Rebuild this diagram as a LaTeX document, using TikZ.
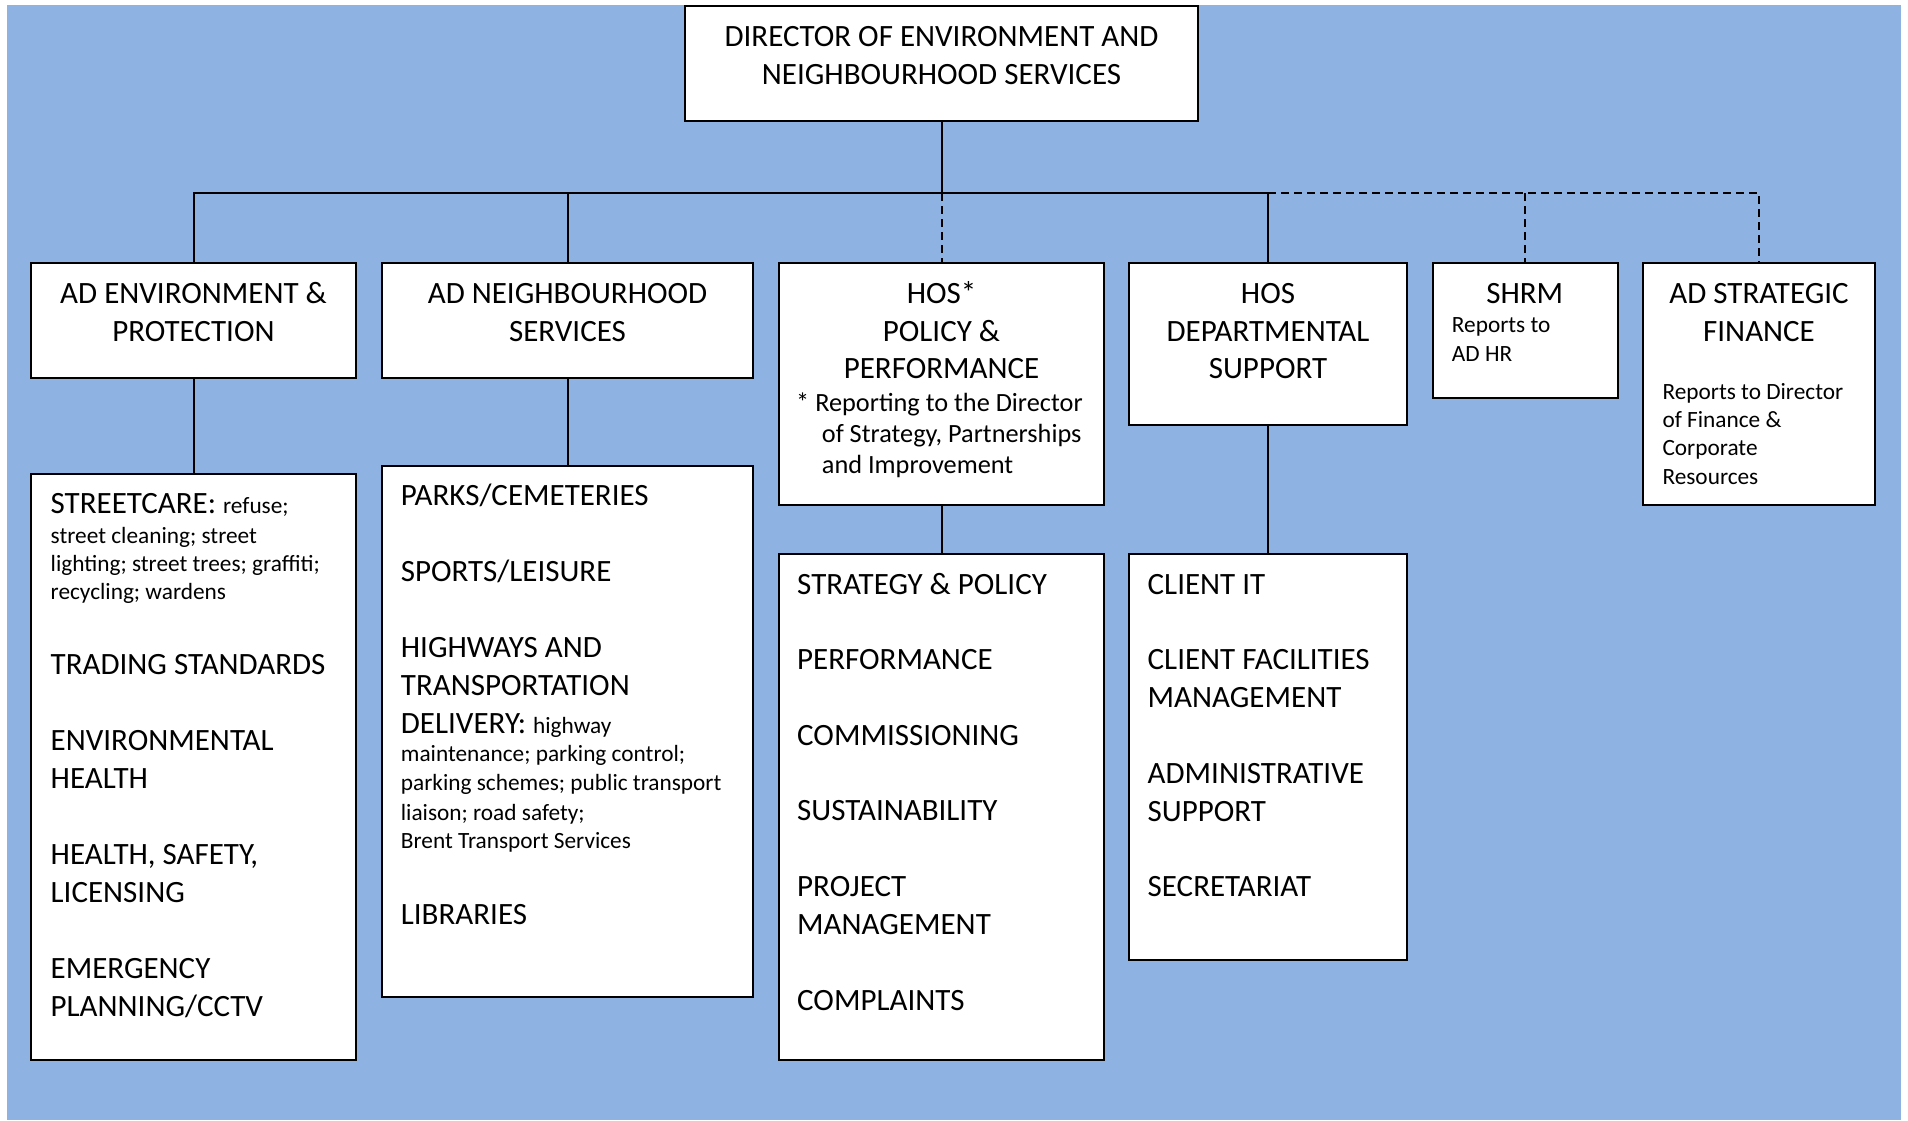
\documentclass[tikz,border=0pt]{standalone}
\usepackage{fontspec}
\setmainfont{Carlito}
\definecolor{bgblue}{RGB}{142,179,226}
\newcommand\smfont{\fontsize{23.3}{28}\selectfont}
\tikzset{
  box/.style={draw=black, line width=2pt, fill=white, rectangle, inner sep=0pt},
  conn/.style={draw=black, line width=2pt},
  dconn/.style={conn, dash pattern=on 8pt off 5pt},
  tbig/.style={font=\fontsize{31}{37}\selectfont, inner sep=0pt},
  tnote/.style={font=\fontsize{26.3}{31}\selectfont, inner sep=0pt, anchor=base west},
  tsmall/.style={font=\smfont, inner sep=0pt, anchor=base west},
  tc/.style={tbig, anchor=base},
  tl/.style={tbig, anchor=base west},
}
\begin{document}
\begin{tikzpicture}[x=1pt,y=-1pt]
\useasboundingbox (0,0) rectangle (1908,1120);
\fill[bgblue] (7,5) rectangle (1901,1120);

% boxes
\node[box, minimum width=513pt, minimum height=115pt] (dir) at (941.5,63.5) {};
\node[box, minimum width=325pt, minimum height=115pt] (adenv) at (193.5,320.5) {};
\node[box, minimum width=371pt, minimum height=115pt] (adneigh) at (567.5,320.5) {};
\node[box, minimum width=325pt, minimum height=242pt] (hospol) at (941.5,384) {};
\node[box, minimum width=278pt, minimum height=162pt] (hosdept) at (1268,344) {};
\node[box, minimum width=185.5pt, minimum height=135pt] (shrm) at (1525.25,330.5) {};
\node[box, minimum width=232pt, minimum height=242pt] (fin) at (1759,384) {};
\node[box, minimum width=325pt, minimum height=586pt] (street) at (193.5,767) {};
\node[box, minimum width=371pt, minimum height=531pt] (parks) at (567.5,731.5) {};
\node[box, minimum width=325pt, minimum height=506pt] (strat) at (941.5,807) {};
\node[box, minimum width=278pt, minimum height=406pt] (client) at (1268,757) {};

% connectors
\coordinate (bus) at (941.5,193);
\draw[conn] (dir.south) -- (bus);
\draw[conn] (adenv.north) |- (bus);
\draw[conn] (bus) -| (hosdept.north);
\draw[conn] (adneigh.north) -- (adneigh.north |- bus);
\draw[dconn] (bus) -- (hospol.north);
\draw[dconn] (hosdept.north |- bus) -| (fin.north);
\draw[dconn] (shrm.north |- bus) -- (shrm.north);
\draw[conn] (adenv.south) -- (street.north);
\draw[conn] (adneigh.south) -- (parks.north);
\draw[conn] (hospol.south) -- (strat.north);
\draw[conn] (hosdept.south) -- (client.north);

% header texts
\node[tc] (d1) at (941.5,46) {DIRECTOR OF ENVIRONMENT AND};
\node[tc] (d2) at (941.5,84) {NEIGHBOURHOOD SERVICES};
\node[tc] (ae1) at (193.5,303.5) {AD ENVIRONMENT \&};
\node[tc] (ae2) at (193.5,341) {PROTECTION};
\node[tc] (an1) at (567.5,303.5) {AD NEIGHBOURHOOD};
\node[tc] (an2) at (567.5,341) {SERVICES};
\node[tc] (hp1) at (941.5,303) {HOS*};
\node[tc] (hp2) at (941.5,341) {POLICY \&};
\node[tc] (hp3) at (941.5,378.5) {PERFORMANCE};
\node[tnote] (hp4) at (796,411.7) {* Reporting to the Director};
\node[tnote] (hp5) at (821.7,442.7) {of Strategy, Partnerships};
\node[tnote] (hp6) at (821.7,473.5) {and Improvement};
\node[tc] (hd1) at (1268,303) {HOS};
\node[tc] (hd2) at (1268,341) {DEPARTMENTAL};
\node[tc] (hd3) at (1268,378.5) {SUPPORT};
\node[tc] (sh1) at (1524.7,303) {SHRM};
\node[tsmall] (sh2) at (1451.7,332.7) {Reports to};
\node[tsmall] (sh3) at (1451.7,361.7) {AD HR};
\node[tc] (fi1) at (1759,303) {AD STRATEGIC};
\node[tc] (fi2) at (1759,341) {FINANCE};
\node[tsmall] (fi3) at (1662.3,399.3) {Reports to Director};
\node[tsmall] (fi4) at (1662.3,427.5) {of Finance \&};
\node[tsmall] (fi5) at (1662.3,455.5) {Corporate};
\node[tsmall] (fi6) at (1662.3,484) {Resources};

% streetcare box
\node[tl] (st1) at (50.5,513.3) {STREETCARE: {\smfont refuse;}};
\node[tsmall] (st2) at (50.5,543.3) {street cleaning; street};
\node[tsmall] (st3) at (50.5,571.5) {lighting; street trees; graffiti;};
\node[tsmall] (st4) at (50.5,599.5) {recycling; wardens};
\node[tl] (st5) at (50.5,674.3) {TRADING STANDARDS};
\node[tl] (st6) at (50.5,750.5) {ENVIRONMENTAL};
\node[tl] (st7) at (50.5,788.3) {HEALTH};
\node[tl] (st8) at (50.5,864) {HEALTH, SAFETY,};
\node[tl] (st9) at (50.5,902) {LICENSING};
\node[tl] (st10) at (50.5,978) {EMERGENCY};
\node[tl] (st11) at (50.5,1016) {PLANNING/CCTV};

% parks box
\node[tl] (pk1) at (400.7,505) {PARKS/CEMETERIES};
\node[tl] (pk2) at (400.7,581) {SPORTS/LEISURE};
\node[tl] (pk3) at (400.7,657.5) {HIGHWAYS AND};
\node[tl] (pk4) at (400.7,695.3) {TRANSPORTATION};
\node[tl] (pk5) at (400.7,733) {DELIVERY: {\smfont highway}};
\node[tsmall] (pk6) at (400.7,761.7) {maintenance; parking control;};
\node[tsmall] (pk7) at (400.7,790.7) {parking schemes; public transport};
\node[tsmall] (pk8) at (400.7,820) {liaison; road safety;};
\node[tsmall] (pk9) at (400.7,848.3) {Brent Transport Services};
\node[tl] (pk10) at (400.7,924) {LIBRARIES};

% strategy box
\node[tl] (sp1) at (797,594) {STRATEGY \& POLICY};
\node[tl] (sp2) at (797,669.5) {PERFORMANCE};
\node[tl] (sp3) at (797,745) {COMMISSIONING};
\node[tl] (sp4) at (797,820.5) {SUSTAINABILITY};
\node[tl] (sp5) at (797,896) {PROJECT};
\node[tl] (sp6) at (797,934) {MANAGEMENT};
\node[tl] (sp7) at (797,1010) {COMPLAINTS};

% client box
\node[tl] (cl1) at (1147.5,594) {CLIENT IT};
\node[tl] (cl2) at (1147.5,669.5) {CLIENT FACILITIES};
\node[tl] (cl3) at (1147.5,707) {MANAGEMENT};
\node[tl] (cl4) at (1147.5,783) {ADMINISTRATIVE};
\node[tl] (cl5) at (1147.5,821) {SUPPORT};
\node[tl] (cl6) at (1147.5,896.5) {SECRETARIAT};
\end{tikzpicture}
\end{document}
